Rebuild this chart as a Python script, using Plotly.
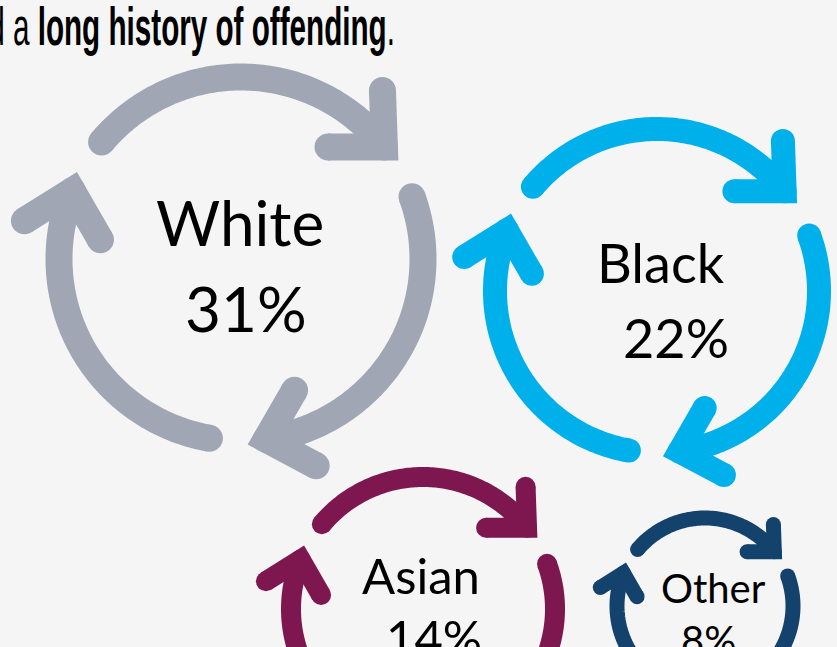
import numpy as np
import plotly.graph_objects as go

# Share of the cohort by ethnic group
groups = ["White", "Black", "Asian", "Other"]
shares = [31, 22, 14, 8]
colours = ["#A0A6B4", "#00B0EB", "#7E174F", "#13426C"]

# Cycle-icon placement (pixel space, y downwards)
CENTRES = [(241, 259), (657, 291), (423, 609), (705, 606)]
RADII = [182, 162, 132, 88]
STROKES = [27, 24, 20, 15]
FONT_SIZES = [62, 54, 49, 40]
NAME_OFFSETS = [(-1, -37), (4, -29), (-2, -34), (8, -18)]
PCT_OFFSETS = [(5, 49), (19, 46), (11, 28), (3, 34)]

W, H = 837, 647
BG = "#F5F5F5"
ARC_STARTS = [140, 20, -100]   # degrees, counter-clockwise from east
ARC_SPAN = 102                 # each arc runs clockwise

fig = go.Figure()


def pt(cx, cy, r, deg):
    a = np.radians(deg)
    return cx + r * np.cos(a), cy - r * np.sin(a)


for name, share, col, (cx, cy), r, w in zip(groups, shares, colours, CENTRES, RADII, STROKES):
    for s in ARC_STARTS:
        e = s - ARC_SPAN
        th = np.linspace(s, e, 120)
        xs, ys = pt(cx, cy, r, th)
        fig.add_trace(go.Scatter(
            x=xs, y=ys, mode="lines",
            line=dict(color=col, width=w, simplify=False),
            hoverinfo="skip", showlegend=False))
        # round cap at the tail of the arc
        fig.add_trace(go.Scatter(
            x=[xs[0]], y=[ys[0]], mode="markers",
            marker=dict(size=w, color=col, line=dict(width=0)),
            hoverinfo="skip", showlegend=False))
        # chevron arrowhead at the head of the arc
        vx, vy = xs[-1], ys[-1]
        back = e + 90 + 8
        L = 0.31 * r
        ax, ay = [], []
        for d in (back + 44, None, back - 44):
            if d is None:
                ax.append(vx); ay.append(vy)
            else:
                ax.append(vx + L * np.cos(np.radians(d)))
                ay.append(vy - L * np.sin(np.radians(d)))
        fig.add_trace(go.Scatter(
            x=ax, y=ay, mode="lines+markers",
            line=dict(color=col, width=w, simplify=False),
            marker=dict(size=w, color=col, line=dict(width=0)),
            hoverinfo="skip", showlegend=False))

annotations = [dict(
    x=397, y=26, xref="x", yref="y", xanchor="right", yanchor="middle",
    text="d a <b>long history of offending</b>.", showarrow=False,
    font=dict(family="Liberation Sans, Arial", size=54, color="#000000"))]

for name, share, (cx, cy), fs, no, po in zip(groups, shares, CENTRES, FONT_SIZES,
                                             NAME_OFFSETS, PCT_OFFSETS):
    annotations.append(dict(
        x=cx + no[0], y=cy + no[1], xref="x", yref="y", text=name,
        showarrow=False, xanchor="center", yanchor="middle",
        font=dict(family="Lato", size=fs, color="#000000")))
    annotations.append(dict(
        x=cx + po[0], y=cy + po[1], xref="x", yref="y", text=f"{share}%",
        showarrow=False, xanchor="center", yanchor="middle",
        font=dict(family="Lato", size=fs, color="#000000")))

fig.update_layout(
    width=W, height=H, margin=dict(l=0, r=0, t=0, b=0),
    paper_bgcolor=BG, plot_bgcolor=BG,
    xaxis=dict(range=[0, W], visible=False, fixedrange=True),
    yaxis=dict(range=[H, 0], visible=False, fixedrange=True),
    annotations=annotations,
)

# Condense the heading horizontally, keeping its right edge in place
squeeze_js = """
document.querySelectorAll('.annotation-text').forEach(function (t) {
  if (t.textContent.indexOf('offending') >= 0) {
    var b = t.getBBox();
    var rx = b.x + b.width;
    t.setAttribute('transform',
      'translate(' + rx + ',0) scale(0.549,1) translate(' + (-rx) + ',0)');
  }
});
"""

fig.write_html("out.html", config={"displayModeBar": False, "staticPlot": True},
               post_script=squeeze_js)
